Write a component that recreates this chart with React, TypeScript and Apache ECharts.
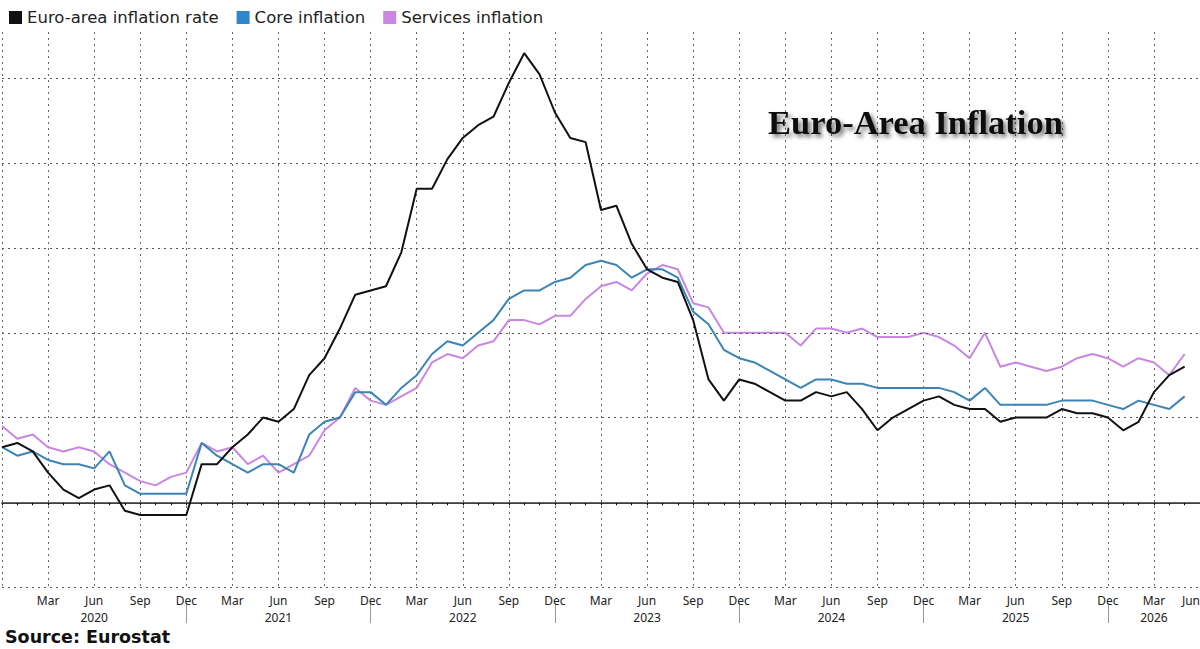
import React, { useEffect, useRef } from "react";
import * as echarts from "echarts";

const MONTH_NAMES = ["Jan", "Feb", "Mar", "Apr", "May", "Jun", "Jul", "Aug", "Sep", "Oct", "Nov", "Dec"];
// Axis categories: Dec 2019 .. Jun 2026 (month-end)
const START_YEAR = 2019;
const START_MONTH = 11; // December (0-based)
const CATEGORY_COUNT = 79;

const headline = [
  1.3,
  1.4, 1.2, 0.7, 0.3, 0.1, 0.3, 0.4, -0.2, -0.3, -0.3, -0.3, -0.3,
  0.9, 0.9, 1.3, 1.6, 2.0, 1.9, 2.2, 3.0, 3.4, 4.1, 4.9, 5.0,
  5.1, 5.9, 7.4, 7.4, 8.1, 8.6, 8.9, 9.1, 9.9, 10.6, 10.1, 9.2,
  8.6, 8.5, 6.9, 7.0, 6.1, 5.5, 5.3, 5.2, 4.3, 2.9, 2.4, 2.9,
  2.8, 2.6, 2.4, 2.4, 2.6, 2.5, 2.6, 2.2, 1.7, 2.0, 2.2, 2.4,
  2.5, 2.3, 2.2, 2.2, 1.9, 2.0, 2.0, 2.0, 2.2, 2.1, 2.1, 2.0,
  1.7, 1.9, 2.6, 3.0, 3.2,
];

const core = [
  1.3,
  1.1, 1.2, 1.0, 0.9, 0.9, 0.8, 1.2, 0.4, 0.2, 0.2, 0.2, 0.2,
  1.4, 1.1, 0.9, 0.7, 0.9, 0.9, 0.7, 1.6, 1.9, 2.0, 2.6, 2.6,
  2.3, 2.7, 3.0, 3.5, 3.8, 3.7, 4.0, 4.3, 4.8, 5.0, 5.0, 5.2,
  5.3, 5.6, 5.7, 5.6, 5.3, 5.5, 5.5, 5.3, 4.5, 4.2, 3.6, 3.4,
  3.3, 3.1, 2.9, 2.7, 2.9, 2.9, 2.8, 2.8, 2.7, 2.7, 2.7, 2.7,
  2.7, 2.6, 2.4, 2.7, 2.3, 2.3, 2.3, 2.3, 2.4, 2.4, 2.4, 2.3,
  2.2, 2.4, 2.3, 2.2, 2.5,
];

const services = [
  1.8,
  1.5, 1.6, 1.3, 1.2, 1.3, 1.2, 0.9, 0.7, 0.5, 0.4, 0.6, 0.7,
  1.4, 1.2, 1.3, 0.9, 1.1, 0.7, 0.9, 1.1, 1.7, 2.0, 2.7, 2.4,
  2.3, 2.5, 2.7, 3.3, 3.5, 3.4, 3.7, 3.8, 4.3, 4.3, 4.2, 4.4,
  4.4, 4.8, 5.1, 5.2, 5.0, 5.4, 5.6, 5.5, 4.7, 4.6, 4.0, 4.0,
  4.0, 4.0, 4.0, 3.7, 4.1, 4.1, 4.0, 4.1, 3.9, 3.9, 3.9, 4.0,
  3.9, 3.7, 3.4, 4.0, 3.2, 3.3, 3.2, 3.1, 3.2, 3.4, 3.5, 3.4,
  3.2, 3.4, 3.3, 3.0, 3.5,
];

const gridValues = [-2, 2, 4, 6, 8, 10];
const zeroValue = 0;

const SERIES_NAMES = ["Euro-area inflation rate", "Core inflation", "Services inflation"];
const TITLE = "Euro-Area Inflation";
const SOURCE = "Source: Eurostat";

function buildCategories(): { month: string; year: number }[] {
  const out: { month: string; year: number }[] = [];
  for (let i = 0; i < CATEGORY_COUNT; i++) {
    const m = (START_MONTH + i) % 12;
    const y = START_YEAR + Math.floor((START_MONTH + i) / 12);
    out.push({ month: MONTH_NAMES[m], year: y });
  }
  return out;
}

export default function App() {
  const ref = useRef<HTMLDivElement>(null);

  useEffect(() => {
    if (!ref.current) return;
    const chart = echarts.init(ref.current, null, { renderer: "svg" });
    const cats = buildCategories();
    const catKeys = cats.map((c) => `${c.month} ${c.year}`);
    const font = "'Noto Sans', sans-serif";

    const option: any = {
      animation: false,
      backgroundColor: "#ffffff",
      legend: {
        left: 4,
        top: 4,
        icon: "rect",
        itemWidth: 13,
        itemHeight: 13,
        itemGap: 18,
        selectedMode: false,
        data: SERIES_NAMES,
        textStyle: { fontFamily: "'DejaVu Sans', sans-serif", fontSize: 16.5, color: "#222" },
      },
      grid: {
        left: 2,
        width: 1198,
        top: 32,
        bottom: 59,
        containLabel: false,
        outerBoundsMode: "none",
      },
      xAxis: [
        {
          type: "category",
          data: catKeys,
          boundaryGap: false,
          axisLine: { show: true, lineStyle: { color: "#000", width: 1.5 } },
          axisTick: { show: true, interval: 0, length: 3, lineStyle: { color: "#000", width: 1 } },
          axisLabel: {
            interval: (i: number) => i % 3 === 0 && i > 0,
            formatter: (v: string) => v.split(" ")[0],
            alignMaxLabel: "right",
            margin: 4,
            fontFamily: font,
            fontSize: 12,
            color: "#222",
          },
          splitLine: {
            show: true,
            interval: (i: number) => i % 3 === 0,
            lineStyle: { color: "#666", type: [2, 4], width: 1 },
          },
        },
        {
          type: "category",
          data: catKeys,
          boundaryGap: false,
          position: "bottom",
          offset: 13,
          axisLine: { show: false },
          axisTick: {
            show: true,
            interval: (i: number) => i % 12 === 0 && i > 0,
            length: 20,
            lineStyle: { color: "#999", width: 1 },
          },
          axisLabel: {
            interval: (i: number) => (i % 12 === 6 && i < 72) || i === 75,
            formatter: (v: string) => v.split(" ")[1],
            margin: 8,
            fontFamily: font,
            fontSize: 12,
            color: "#222",
          },
          splitLine: { show: false },
        },
      ],
      yAxis: {
        type: "value",
        min: -2.07,
        max: 11.1,
        axisLine: { show: false },
        axisTick: { show: false },
        axisLabel: { show: false },
        splitLine: { show: false },
      },
      series: [
        {
          name: "__grid",
          type: "line",
          data: [],
          z: 1,
          silent: true,
          markLine: {
            silent: true,
            symbol: "none",
            label: { show: false },
            animation: false,
            data: [
              ...gridValues.map((v) => ({ yAxis: v, lineStyle: { color: "#555", type: [2, 4], width: 1 } })),
              { yAxis: zeroValue, lineStyle: { color: "#666", type: "solid", width: 1 } },
            ],
          },
        },
        {
          name: SERIES_NAMES[2],
          type: "line",
          data: services,
          z: 3,
          symbol: "none",
          color: "#c987e2",
          lineStyle: { width: 2, color: "#c987e2" },
        },
        {
          name: SERIES_NAMES[1],
          type: "line",
          data: core,
          z: 4,
          symbol: "none",
          color: "#2f86c8",
          lineStyle: { width: 2, color: "#3a84b6" },
        },
        {
          name: SERIES_NAMES[0],
          type: "line",
          data: headline,
          z: 5,
          symbol: "none",
          color: "#111",
          lineStyle: { width: 2, color: "#111" },
        },
      ],
      graphic: [
        {
          type: "text",
          left: 768,
          top: 104,
          z: 10,
          style: {
            text: TITLE,
            fontFamily: "'Liberation Serif', 'DejaVu Serif', serif",
            fontWeight: "bold",
            fontSize: 34.5,
            fill: "#111",
            textShadowColor: "rgba(0,0,0,0.55)",
            textShadowBlur: 4,
            textShadowOffsetX: 3,
            textShadowOffsetY: 3,
          },
        },
        {
          type: "text",
          left: 5,
          top: 628,
          z: 10,
          style: {
            text: SOURCE,
            fontFamily: "'DejaVu Sans', sans-serif",
            fontWeight: "bold",
            fontSize: 17.5,
            fill: "#111",
          },
        },
      ],
    };

    chart.setOption(option);
    return () => chart.dispose();
  }, []);

  return (
    <div
      ref={ref}
      style={{ position: "fixed", left: 0, top: 0, width: 1200, height: 649, background: "#fff" }}
    />
  );
}
